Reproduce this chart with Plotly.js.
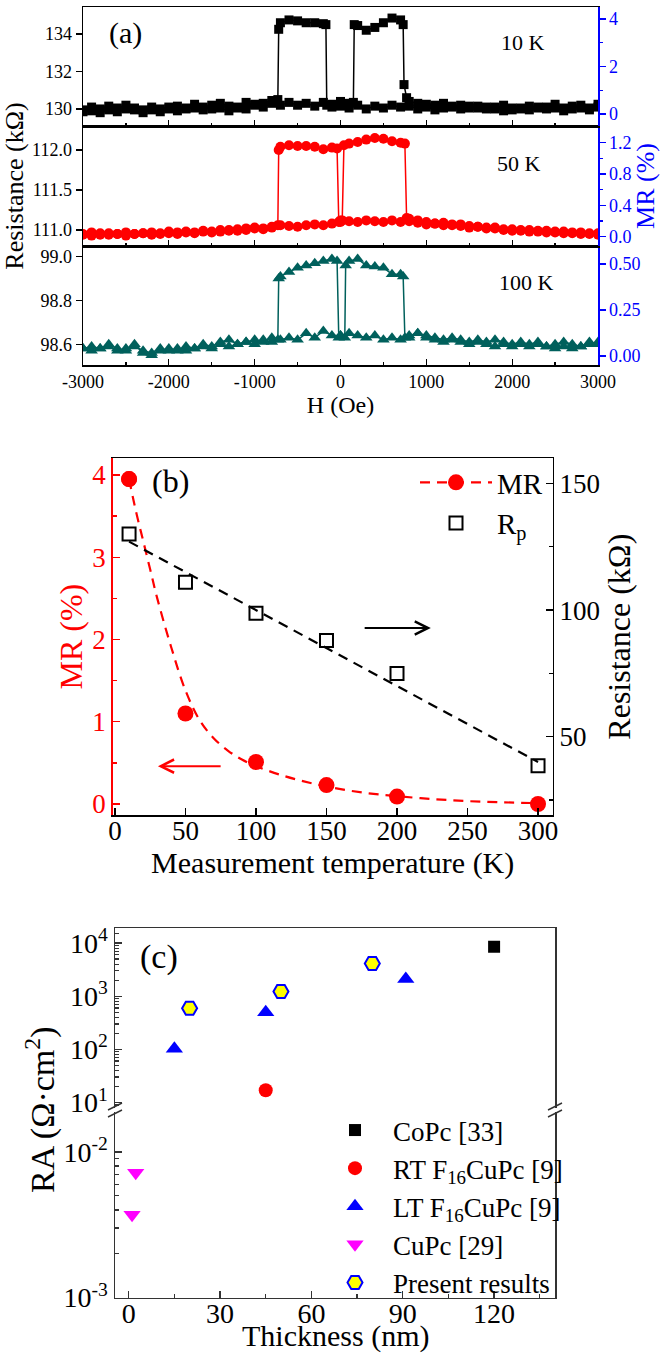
<!DOCTYPE html>
<html>
<head>
<meta charset="utf-8">
<script src="https://cdn.plot.ly/plotly-3.0.1.min.js"></script>
<style>html,body{margin:0;padding:0;background:#fff;}#chart{width:660px;height:1355px;}</style>
</head>
<body>
<div id="chart"></div>
<script>
// ---------------- Panel (a): R vs H loops ----------------
const H_TICKS = [-3000,-2000,-1000,0,1000,2000,3000];
const H_TICKTEXT = ['-3000','-2000','-1000','0','1000','2000','3000'];

// 10 K, forward sweep (-3000 -> 3000)
const H10_up = [-3000,-2900,-2800,-2700,-2600,-2500,-2400,-2300,-2200,-2100,-2000,-1900,-1800,-1700,-1600,-1500,-1400,-1300,-1200,-1100,-1000,-900,-800,-700,-600,-500,-400,-300,-200,-100,0,100,150,160,200,300,400,500,600,700,730,740,770,800,900,1000,1100,1200,1300,1400,1500,1600,1700,1800,1900,2000,2100,2200,2300,2400,2500,2600,2700,2800,2900,3000];
const R10_up = [129.95,130.1,130.0,130.15,130.05,130.2,130.05,129.95,130.1,130.0,130.1,130.15,130.05,130.25,130.1,130.0,130.3,130.15,130.05,130.35,130.2,130.3,130.45,130.2,130.35,130.2,130.3,130.15,130.35,130.25,130.4,130.3,130.35,134.5,134.45,134.2,134.35,134.6,134.85,134.75,134.5,131.3,130.6,130.4,130.3,130.25,130.2,130.3,130.15,130.2,130.05,130.15,130.1,130.0,130.2,129.95,130.05,130.15,130.05,130.1,130.25,130.05,130.0,130.2,130.05,130.25];
// 10 K, backward sweep (3000 -> -3000)
const H10_dn = [3000,2900,2800,2700,2600,2500,2400,2300,2200,2100,2000,1900,1800,1700,1600,1500,1400,1300,1200,1100,1000,900,800,700,600,500,400,300,200,100,0,-100,-160,-170,-200,-300,-400,-500,-600,-700,-720,-730,-800,-900,-1000,-1100,-1200,-1300,-1400,-1500,-1600,-1700,-1800,-1900,-2000,-2100,-2200,-2300,-2400,-2500,-2600,-2700,-2800,-2900,-3000];
const R10_dn = [130.1,129.95,130.05,130.15,129.9,130.05,130.0,130.1,129.95,130.0,130.05,129.9,130.1,130.0,130.05,130.15,130.0,130.1,130.05,129.95,130.1,130.0,130.15,130.1,130.2,130.05,130.15,130.0,130.2,130.05,130.15,130.1,130.2,134.5,134.55,134.6,134.6,134.7,134.75,134.6,134.25,130.5,130.3,130.1,130.25,130.0,130.1,129.9,130.05,130.2,129.95,130.05,130.0,129.9,130.0,129.85,129.95,129.8,129.95,130.0,129.85,129.95,129.8,129.9,129.85];

// 50 K
const H50_up = [-3000,-2900,-2800,-2700,-2600,-2500,-2400,-2300,-2200,-2100,-2000,-1900,-1800,-1700,-1600,-1500,-1400,-1300,-1200,-1100,-1000,-900,-800,-700,-600,-500,-400,-300,-200,-100,0,20,40,100,200,300,400,500,600,700,750,770,800,900,1000,1100,1200,1300,1400,1500,1600,1700,1800,1900,2000,2100,2200,2300,2400,2500,2600,2700,2800,2900,3000];
const R50_up = [110.95,110.97,110.94,110.96,110.95,110.97,110.95,110.96,110.97,110.96,110.98,110.97,110.98,110.97,110.99,110.98,111.0,110.99,111.01,111.02,111.03,111.02,111.04,111.06,111.05,111.04,111.06,111.07,111.06,111.08,111.1,111.12,112.06,112.08,112.1,112.13,112.15,112.14,112.11,112.09,112.08,111.15,111.14,111.12,111.1,111.08,111.09,111.06,111.07,111.05,111.04,111.03,111.02,111.0,111.01,110.99,111.0,110.98,110.99,110.97,110.98,110.96,110.97,110.95,110.96];
const H50_dn = [3000,2900,2800,2700,2600,2500,2400,2300,2200,2100,2000,1900,1800,1700,1600,1500,1400,1300,1200,1100,1000,900,800,700,600,500,400,300,200,100,0,-20,-40,-100,-200,-300,-400,-500,-600,-700,-720,-730,-800,-900,-1000,-1100,-1200,-1300,-1400,-1500,-1600,-1700,-1800,-1900,-2000,-2100,-2200,-2300,-2400,-2500,-2600,-2700,-2800,-2900,-3000];
const R50_dn = [110.94,110.96,110.95,110.97,110.96,110.98,110.97,110.99,110.98,111.0,110.99,111.01,111.03,111.02,111.04,111.03,111.05,111.07,111.06,111.08,111.07,111.09,111.11,111.1,111.12,111.1,111.11,111.12,111.1,111.11,111.12,111.1,112.02,112.03,112.01,112.04,112.05,112.05,112.06,112.04,112.0,111.06,111.03,111.01,111.02,111.0,110.99,111.0,110.98,110.97,110.98,110.96,110.97,110.95,110.96,110.95,110.94,110.96,110.95,110.93,110.95,110.94,110.96,110.93,110.94];

// 100 K
const H100_up = [-3000,-2900,-2800,-2700,-2600,-2500,-2400,-2300,-2200,-2100,-2000,-1900,-1800,-1700,-1600,-1500,-1400,-1300,-1200,-1100,-1000,-900,-800,-700,-600,-500,-400,-300,-200,-100,0,50,60,100,200,300,400,500,600,700,730,750,800,900,1000,1100,1200,1300,1400,1500,1600,1700,1800,1900,2000,2100,2200,2300,2400,2500,2600,2700,2800,2900,3000];
const R100_up = [98.58,98.59,98.58,98.60,98.58,98.57,98.60,98.56,98.55,98.57,98.58,98.57,98.59,98.58,98.60,98.59,98.61,98.62,98.60,98.61,98.62,98.61,98.63,98.62,98.63,98.62,98.65,98.63,98.66,98.64,98.64,98.63,98.96,98.98,98.99,98.96,98.955,98.95,98.92,98.92,98.91,98.63,98.64,98.65,98.63,98.62,98.61,98.62,98.61,98.60,98.61,98.60,98.59,98.60,98.59,98.60,98.59,98.60,98.59,98.58,98.59,98.58,98.59,98.60,98.61];
const H100_dn = [3000,2900,2800,2700,2600,2500,2400,2300,2200,2100,2000,1900,1800,1700,1600,1500,1400,1300,1200,1100,1000,900,800,700,600,500,400,300,200,100,0,-20,-40,-100,-200,-300,-400,-500,-600,-700,-720,-730,-800,-900,-1000,-1100,-1200,-1300,-1400,-1500,-1600,-1700,-1800,-1900,-2000,-2100,-2200,-2300,-2400,-2500,-2600,-2700,-2800,-2900,-3000];
const R100_dn = [98.60,98.61,98.59,98.60,98.61,98.60,98.59,98.61,98.60,98.61,98.60,98.61,98.62,98.61,98.62,98.61,98.62,98.63,98.62,98.63,98.64,98.65,98.63,98.62,98.63,98.62,98.64,98.63,98.64,98.65,98.64,98.63,98.98,98.99,98.98,98.97,98.96,98.95,98.93,98.91,98.90,98.62,98.61,98.62,98.60,98.61,98.60,98.59,98.60,98.58,98.59,98.58,98.57,98.58,98.57,98.58,98.56,98.57,98.59,98.58,98.57,98.59,98.58,98.57,98.58];

// ---------------- Panel (b): MR and Rp vs T ----------------
const T_meas = [10, 50, 100, 150, 200, 300];
const MR_meas = [3.95, 1.1, 0.51, 0.23, 0.09, 0.0];
const Rp_meas = [130, 111, 98.7, 88, 75, 38.5];
const T_fitMR = [10,15,20,25,30,40,50,60,70,80,90,100,120,140,160,180,200,225,250,275,300];
const MR_fit  = [3.95,3.55,3.2,2.85,2.5,1.9,1.38,1.02,0.8,0.65,0.54,0.46,0.34,0.25,0.18,0.13,0.095,0.06,0.035,0.02,0.01];
const T_fitRp = [10, 300];
const Rp_fit  = [127, 40];

// ---------------- Panel (c): RA vs thickness ----------------
const CoPc_t = [120], CoPc_RA = [8500];
const RT_t = [45], RT_RA = [17];
const LT_t = [15, 45, 91], LT_RA = [102, 500, 2100];
const CuPc_t = [2.3, 1.1], CuPc_RA = [0.0072, 0.0037];
const Pres_t = [20, 50, 80], Pres_RA = [590, 1220, 4100];
const C_UP_TICKS = [10, 100, 1000, 10000];
const C_UP_TEXT = ['10<sup>1</sup>','10<sup>2</sup>','10<sup>3</sup>','10<sup>4</sup>'];
const C_LO_TICKS = [0.001, 0.01];
const C_LO_TEXT = ['10<sup>-3</sup>','10<sup>-2</sup>'];

// ---------------- helpers ----------------
const W = 660, HH = 1355;
const px = v => v / W;
const py = v => 1 - v / HH;
const FONT = 'Liberation Serif, Times New Roman, serif';
const BLUE = '#0000ff', RED = '#ff0000', TEAL = '#00605c';

const data = [];
function loop(hx, ry, ax, ay, color, symbol, size) {
  data.push({x: hx, y: ry, xaxis: ax, yaxis: ay, type: 'scatter', mode: 'lines+markers',
    showlegend: false, line: {color: color, width: 1.5},
    marker: {symbol: symbol, size: size, color: color}});
}
// invisible copy on the MR (%) axis, MR = (R/Rp - 1)*100, so that the right-hand axis is drawn
function mrCopy(hx, ry, rp, ax, ay) {
  data.push({x: hx, y: ry.map(r => (r / rp - 1) * 100), xaxis: ax, yaxis: ay, type: 'scatter',
    mode: 'markers', showlegend: false, hoverinfo: 'skip', marker: {opacity: 0, size: 1}});
}
loop(H10_up, R10_up, 'x3', 'y3', '#000000', 'square', 9);
loop(H10_dn, R10_dn, 'x3', 'y3', '#000000', 'square', 9);
loop(H50_up, R50_up, 'x2', 'y2', RED, 'circle', 10);
loop(H50_dn, R50_dn, 'x2', 'y2', RED, 'circle', 10);
loop(H100_up, R100_up, 'x', 'y', TEAL, 'triangle-up', 11);
loop(H100_dn, R100_dn, 'x', 'y', TEAL, 'triangle-up', 11);
mrCopy(H10_up, R10_up, Rp_meas[0], 'x3', 'y4');
mrCopy(H50_up, R50_up, Rp_meas[1], 'x2', 'y5');
mrCopy(H100_up, R100_up, Rp_meas[2], 'x', 'y6');

// (b)
const fitColors = T_fitMR.map((_, i) => i === 0 ? RED : 'rgba(0,0,0,0)');
data.push({x: T_fitMR, y: MR_fit, xaxis: 'x4', yaxis: 'y7', type: 'scatter', mode: 'lines+markers',
  name: 'MR', legend: 'legend', line: {color: RED, width: 2.2, dash: '10px,7px', shape: 'spline'},
  marker: {size: 16, color: fitColors}});
data.push({x: T_meas, y: MR_meas, xaxis: 'x4', yaxis: 'y7', type: 'scatter', mode: 'markers',
  showlegend: false, marker: {size: 16, color: RED}});
data.push({x: T_fitRp, y: Rp_fit, xaxis: 'x4', yaxis: 'y8', type: 'scatter', mode: 'lines',
  showlegend: false, line: {color: '#000', width: 2.2, dash: '10px,7px'}});
data.push({x: T_meas, y: Rp_meas, xaxis: 'x4', yaxis: 'y8', type: 'scatter', mode: 'markers',
  name: 'R<sub>p</sub>', legend: 'legend',
  marker: {symbol: 'square-open', size: 13, color: '#000', line: {width: 2, color: '#000'}}});

// (c)
function cpts(tx, ry, ay, name, sym, size, color, lc, lw) {
  data.push({x: tx, y: ry, xaxis: ay === 'y10' ? 'x6' : 'x5', yaxis: ay, type: 'scatter', mode: 'markers',
    name: name, legend: 'legend2', showlegend: true,
    marker: {symbol: sym, size: size, color: color, line: {color: lc, width: lw}}});
}
cpts(CoPc_t, CoPc_RA, 'y10', 'CoPc [33]', 'square', 12, '#000', '#000', 0);
cpts(RT_t, RT_RA, 'y10', 'RT F<sub>16</sub>CuPc [9]', 'circle', 14, RED, RED, 0);
cpts(LT_t, LT_RA, 'y10', 'LT F<sub>16</sub>CuPc [9]', 'triangle-up', 15, BLUE, BLUE, 0);
cpts(CuPc_t, CuPc_RA, 'y9', 'CuPc [29]', 'triangle-down', 15, '#ff00ff', '#ff00ff', 0);
cpts(Pres_t, Pres_RA, 'y10', 'Present results', 'hexagon2', 15, '#ffff00', BLUE, 2);

// ---------------- layout ----------------
const aX = [px(83), px(598)];
const baseX = {range: [-3000, 3000], domain: aX, showline: true, linecolor: '#000', linewidth: 1.5,
  mirror: true, ticks: 'inside', ticklen: 6, tickwidth: 1.3, tickcolor: '#000',
  tickvals: H_TICKS, ticktext: H_TICKTEXT,
  minor: {tickvals: [-2500,-1500,-500,500,1500,2500], ticks: 'inside', ticklen: 3, tickcolor: '#000'},
  showgrid: false, zeroline: false, tickfont: {size: 18, color: '#000'}};
const leftY = {showline: true, linecolor: '#000', linewidth: 1.5, ticks: 'outside', ticklen: 6,
  tickwidth: 1.3, tickcolor: '#000', showgrid: false, zeroline: false, tickfont: {size: 18, color: '#000'}};
const rightY = {showline: true, linecolor: BLUE, linewidth: 1.5, ticks: 'outside', ticklen: 6,
  tickwidth: 1.3, tickcolor: BLUE, side: 'right', showgrid: false, zeroline: false,
  tickfont: {size: 18, color: BLUE}};

function ann(x, y, text, size, extra) {
  return Object.assign({xref: 'paper', yref: 'paper', x: px(x), y: py(y), text: text, showarrow: false,
    xanchor: 'center', yanchor: 'middle', font: {size: size}}, extra || {});
}

const layout = {
  width: W, height: HH, margin: {l: 0, r: 0, t: 0, b: 0},
  paper_bgcolor: '#fff', plot_bgcolor: 'rgba(0,0,0,0)',
  font: {family: FONT, color: '#000'},
  showlegend: true,
  xaxis: Object.assign({}, baseX, {anchor: 'y', title: {text: 'H (Oe)', font: {size: 24}, standoff: 0}}),
  xaxis2: Object.assign({}, baseX, {anchor: 'y2', showticklabels: false}),
  xaxis3: Object.assign({}, baseX, {anchor: 'y3', showticklabels: false}),
  yaxis: Object.assign({}, leftY, {anchor: 'x', domain: [py(365), py(246)], range: [98.505, 99.049],
    tickvals: [98.6, 98.8, 99.0], tickformat: '.1f'}),
  yaxis2: Object.assign({}, leftY, {anchor: 'x2', domain: [py(246), py(126)], range: [110.8, 112.3],
    tickvals: [111.0, 111.5, 112.0], tickformat: '.1f',
    title: {text: 'Resistance (kΩ)', font: {size: 26}, standoff: 3}}),
  yaxis3: Object.assign({}, leftY, {anchor: 'x3', domain: [py(126), py(7)], range: [129.09, 135.44],
    tickvals: [130, 132, 134]}),
  yaxis4: Object.assign({}, rightY, {overlaying: 'y3', anchor: 'x3', range: [-0.5, 4.5],
    tickvals: [0, 2, 4], minor: {tickvals: [1, 3], ticks: 'outside', ticklen: 3, tickcolor: BLUE}}),
  yaxis5: Object.assign({}, rightY, {overlaying: 'y2', anchor: 'x2', range: [-0.118, 1.41],
    tickvals: [0, 0.4, 0.8, 1.2], tickformat: '.1f',
    minor: {tickvals: [0.2, 0.6, 1.0], ticks: 'outside', ticklen: 3, tickcolor: BLUE},
    title: {text: 'MR (%)', font: {size: 26, color: BLUE}, standoff: 4}}),
  yaxis6: Object.assign({}, rightY, {overlaying: 'y', anchor: 'x', range: [-0.049, 0.598],
    tickvals: [0, 0.25, 0.5], tickformat: '.2f'}),

  // (b)
  xaxis4: {anchor: 'y7', domain: [px(112.7), px(552.7)], range: [-1.6, 310.4], dtick: 50, tick0: 0,
    showline: true, linecolor: '#000', linewidth: 1.5, mirror: true, ticks: 'inside', ticklen: 7,
    tickwidth: 1.3, tickcolor: '#000', showgrid: false, zeroline: false, tickfont: {size: 27},
    ticklabelstandoff: -9,
    title: {text: 'Measurement temperature (K)', font: {size: 30}, standoff: 7}},
  yaxis7: {anchor: 'x4', domain: [py(815), py(458.3)], range: [-0.134, 4.203], dtick: 1, tick0: 0,
    showline: true, linecolor: RED, linewidth: 1.5, ticks: 'inside', ticklen: 7, tickwidth: 1.3,
    tickcolor: RED, minor: {dtick: 0.5, ticks: 'inside', ticklen: 4, tickcolor: RED},
    showgrid: false, zeroline: false, tickfont: {size: 27, color: RED},
    title: {text: 'MR (%)', font: {size: 32, color: RED}, standoff: 0}},
  yaxis8: {overlaying: 'y7', anchor: 'x4', side: 'right', range: [19.1, 159.9], tickvals: [50, 100, 150],
    showline: true, linecolor: '#000', linewidth: 1.5, ticks: 'inside', ticklen: 7, tickwidth: 1.3,
    tickcolor: '#000', minor: {tickvals: [25, 75, 125], ticks: 'inside', ticklen: 4, tickcolor: '#000'},
    showgrid: false, zeroline: false, tickfont: {size: 27},
    title: {text: 'Resistance (kΩ)', font: {size: 32}, standoff: 8}},

  // (c)
  xaxis5: {anchor: 'y9', domain: [px(115), px(555)], range: [-4.5, 140], tickvals: [0, 30, 60, 90, 120],
    showline: true, linecolor: '#333', linewidth: 1.5, ticks: 'inside', ticklen: 7, tickwidth: 1.3,
    tickcolor: '#333', minor: {tickvals: [15, 45, 75, 105, 135], ticks: 'inside', ticklen: 4, tickcolor: '#333'},
    showgrid: false, zeroline: false, tickfont: {size: 28}, ticklabelstandoff: -10},
  xaxis6: {anchor: 'y10', matches: 'x5', domain: [px(115), px(555)], range: [-4.5, 140], side: 'top',
    showline: true, linecolor: '#333', linewidth: 1.5, ticks: '', showticklabels: false,
    showgrid: false, zeroline: false},
  yaxis9: {anchor: 'x5', type: 'log', domain: [py(1297.5), py(1112)], range: [-3, -1.725],
    tickvals: C_LO_TICKS, ticktext: C_LO_TEXT, showline: true, linecolor: '#333', linewidth: 1.5,
    mirror: true, ticks: 'inside', ticklen: 7, tickwidth: 1.3, tickcolor: '#333',
    minor: {tickvals: [0.002,0.003,0.004,0.005,0.006,0.007,0.008,0.009,0.02], ticks: 'inside', ticklen: 4, tickcolor: '#333'},
    showgrid: false, zeroline: false, tickfont: {size: 28}},
  yaxis10: {anchor: 'x6', type: 'log', domain: [py(1108), py(928.3)], range: [0.896, 4.277],
    tickvals: C_UP_TICKS, ticktext: C_UP_TEXT, showline: true, linecolor: '#333', linewidth: 1.5,
    mirror: true, ticks: 'inside', ticklen: 7, tickwidth: 1.3, tickcolor: '#333',
    minor: {tickvals: [8,9,20,30,40,50,60,70,80,90,200,300,400,500,600,700,800,900,2000,3000,4000,5000,6000,7000,8000,9000,15000],
      ticks: 'inside', ticklen: 4, tickcolor: '#333'},
    showgrid: false, zeroline: false, tickfont: {size: 28}},

  legend: {x: px(415), y: py(457), xanchor: 'left', yanchor: 'top', bgcolor: 'rgba(0,0,0,0)',
    font: {size: 29}, itemwidth: 72, tracegroupgap: 0, traceorder: 'normal'},
  legend2: {x: px(317), y: py(1106), xanchor: 'left', yanchor: 'top', bgcolor: 'rgba(0,0,0,0)',
    font: {size: 27}, itemwidth: 66, tracegroupgap: 0, traceorder: 'normal'},

  annotations: [
    ann(125, 33, '(a)', 30),
    ann(523, 42, '10 K', 22),
    ann(519, 163, '50 K', 22),
    ann(526, 282, '100 K', 22),
    ann(170, 481, '(b)', 32),
    ann(159, 957, '(c)', 34),
    ann(40, 1110, 'RA (Ω·cm<sup>2</sup>)', 34, {textangle: -90}),
    ann(335, 1355, 'Thickness (nm)', 30, {yanchor: 'bottom'}),
    {xref: 'x4', yref: 'y8', x: 224, y: 92.9, axref: 'x4', ayref: 'y8', ax: 176, ay: 92.9, text: '',
      showarrow: true, arrowhead: 5, arrowsize: 1.3, arrowwidth: 2, arrowcolor: '#000'},
    {xref: 'x4', yref: 'y7', x: 30.5, y: 0.46, axref: 'x4', ayref: 'y7', ax: 76, ay: 0.46, text: '',
      showarrow: true, arrowhead: 5, arrowsize: 1.3, arrowwidth: 2, arrowcolor: RED}
  ],
  shapes: [
    {type: 'line', xref: 'paper', yref: 'paper', x0: px(108), y0: py(1110), x1: px(122), y1: py(1103), line: {color: '#333', width: 1.5}},
    {type: 'line', xref: 'paper', yref: 'paper', x0: px(108), y0: py(1117), x1: px(122), y1: py(1110), line: {color: '#333', width: 1.5}},
    {type: 'line', xref: 'paper', yref: 'paper', x0: px(548), y0: py(1110), x1: px(562), y1: py(1103), line: {color: '#333', width: 1.5}},
    {type: 'line', xref: 'paper', yref: 'paper', x0: px(548), y0: py(1117), x1: px(562), y1: py(1110), line: {color: '#333', width: 1.5}}
  ]
};

Plotly.newPlot('chart', data, layout, {staticPlot: true, displayModeBar: false});
</script>
</body>
</html>
